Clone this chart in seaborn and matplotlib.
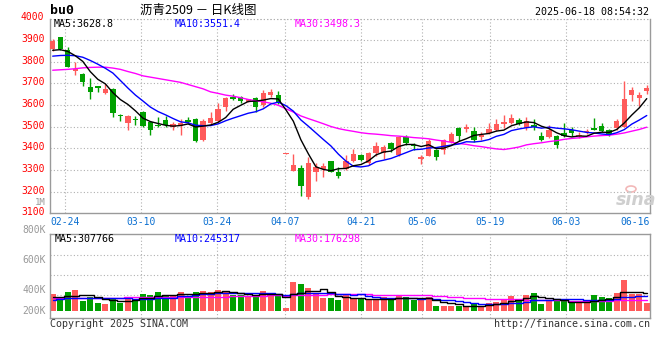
import numpy as np
import pandas as pd
import matplotlib
matplotlib.use("Agg")
import matplotlib.pyplot as plt
import matplotlib.transforms as mtransforms
from matplotlib.patches import Ellipse
import seaborn as sns

# ---------------- data ----------------
open_p = [3857, 3915, 3854, 3758, 3743, 3684, 3688, 3657, 3672, 3550,
          3518, 3536, 3568, 3523, 3510, 3531, 3500, 3503, 3531, 3534,
          3438, 3518, 3528, 3589, 3638, 3638, 3615, 3634, 3600, 3646,
          3646, 3375, 3297, 3308, 3177, 3292, 3303, 3341, 3292, 3303,
          3343, 3369, 3331, 3380, 3380, 3426, 3369, 3451, 3415, 3352,
          3365, 3392, 3392, 3431, 3495, 3489, 3480, 3451, 3469, 3485,
          3512, 3515, 3531, 3492, 3508, 3457, 3451, 3457, 3469, 3485,
          3455, 3475, 3495, 3503, 3485, 3492, 3500, 3646, 3634, 3665]
close_p = [3898, 3858, 3777, 3768, 3708, 3661, 3681, 3672, 3565, 3548,
           3549, 3533, 3503, 3485, 3505, 3508, 3512, 3518, 3521, 3435,
           3528, 3538, 3580, 3631, 3626, 3620, 3626, 3589, 3654, 3661,
           3611, 3378, 3323, 3227, 3334, 3312, 3318, 3292, 3274, 3341,
           3374, 3346, 3377, 3411, 3408, 3395, 3451, 3426, 3409, 3362,
           3435, 3362, 3438, 3466, 3457, 3500, 3438, 3461, 3488, 3512,
           3523, 3538, 3512, 3526, 3497, 3438, 3485, 3415, 3457, 3470,
           3459, 3479, 3485, 3480, 3466, 3526, 3628, 3669, 3646, 3680]
high_p = [3903, 3915, 3869, 3800, 3749, 3723, 3690, 3697, 3681, 3561,
          3554, 3549, 3572, 3528, 3543, 3549, 3523, 3534, 3543, 3538,
          3534, 3569, 3611, 3638, 3651, 3642, 3630, 3638, 3669, 3675,
          3664, 3380, 3375, 3323, 3358, 3334, 3331, 3343, 3312, 3369,
          3397, 3376, 3385, 3430, 3415, 3430, 3457, 3462, 3423, 3370,
          3442, 3396, 3442, 3477, 3497, 3511, 3500, 3477, 3515, 3534,
          3554, 3558, 3538, 3543, 3534, 3477, 3508, 3462, 3515, 3500,
          3477, 3488, 3538, 3518, 3488, 3534, 3712, 3685, 3661, 3692]
low_p = [3852, 3855, 3774, 3741, 3689, 3626, 3662, 3652, 3546, 3528,
         3485, 3508, 3500, 3461, 3500, 3500, 3485, 3461, 3518, 3431,
         3436, 3512, 3523, 3574, 3624, 3608, 3612, 3569, 3589, 3638,
         3605, 3374, 3296, 3180, 3166, 3250, 3269, 3290, 3263, 3300,
         3338, 3343, 3323, 3365, 3349, 3385, 3367, 3415, 3392, 3328,
         3363, 3346, 3374, 3423, 3435, 3477, 3431, 3438, 3466, 3482,
         3492, 3512, 3508, 3485, 3485, 3436, 3449, 3400, 3454, 3457,
         3446, 3466, 3483, 3477, 3457, 3485, 3497, 3618, 3595, 3649]
volume_k = [289, 238, 318, 352, 165, 233, 136, 114, 221, 136,
            193, 204, 284, 267, 318, 250, 250, 318, 250, 318,
            335, 318, 352, 318, 267, 267, 255, 267, 338, 276,
            258, 48, 493, 456, 386, 276, 221, 221, 182, 261,
            193, 193, 188, 182, 230, 207, 261, 227, 188, 193,
            238, 80, 80, 80, 80, 72, 115, 80, 128, 150,
            199, 250, 202, 267, 303, 117, 170, 160, 160, 160,
            126, 126, 267, 236, 219, 303, 525, 286, 286, 136]

# moving-average values before a full window exists
ma5_head = [3853, 3856, 3848, 3828]
ma10_head = [3826, 3829, 3830, 3828, 3821, 3806, 3789, 3770, 3748]
ma30_head = [3761, 3763, 3765, 3768, 3772, 3774, 3775, 3775, 3771, 3765,
             3755, 3746, 3735, 3729, 3723, 3717, 3711, 3705, 3695, 3685,
             3675, 3661, 3654, 3646, 3641, 3634, 3626, 3620, 3615]
vma5_head = [230, 240, 246, 250]
vma10_head = [190, 200, 215, 222, 224, 224, 223, 222, 221]
vma30_head = [216, 216, 217, 218, 218, 219, 220, 221, 222, 224,
              226, 228, 230, 231, 232, 233, 233, 234, 235, 236,
              236, 237, 238, 240, 242, 245, 247, 249, 252]

tick_labels = ["02-24", "03-10", "03-24", "04-07", "04-21", "05-06", "05-19", "06-03", "06-16"]
tick_index = [2, 12, 22, 31, 41, 49, 58, 68, 77]
price_ticks = [3100, 3200, 3300, 3400, 3500, 3600, 3700, 3800, 3900, 4000]
vol_labels = ["800K", "600K", "400K", "200K"]
head_price = ["MA5:3628.8", "MA10:3551.4", "MA30:3498.3"]
head_vol = ["MA5:307766", "MA10:245317", "MA30:176298"]

# ---------------- derived ----------------
o = np.array(open_p, float); c = np.array(close_p, float)
h = np.array(high_p, float); l = np.array(low_p, float)
v = np.array(volume_k, float) * 1000
idx = np.arange(len(c))


def moving(series, n, head):
    m = pd.Series(series).rolling(n).mean().to_numpy()
    m[:len(head)] = head
    return m


ma5 = moving(c, 5, ma5_head)
ma10 = moving(c, 10, ma10_head)
ma30 = moving(c, 30, ma30_head)
vma5 = moving(v, 5, np.array(vma5_head) * 1000)
vma10 = moving(v, 10, np.array(vma10_head) * 1000)
vma30 = moving(v, 30, np.array(vma30_head) * 1000)

RED = "#ff5a5a"
GREEN = "#00a000"
GRID = "#b0b0b0"
SPINE = "#9a9a9a"
DATE_BLUE = "#0a6fd1"
up = c >= o
colors = np.where(up, RED, GREEN)
direction = np.where(up, "up", "down")

# ---------------- figure ----------------
sns.set_theme(style="white")
plt.rcParams['font.family'] = ['DejaVu Sans Mono', 'Noto Sans CJK SC']
MONO = ['DejaVu Sans Mono']
CJK = ['Noto Sans CJK SC', 'DejaVu Sans']

W, H = 660, 360
fig = plt.figure(figsize=(6.6, 3.6), dpi=100)
fig.patch.set_facecolor("white")


def fx(px):
    return px / W


def fy(py):
    return 1 - py / H


ax = fig.add_axes([fx(50), fy(213.3), 600 / W, 194.8 / H])
axv = fig.add_axes([fx(50), fy(318.3), 600 / W, 84 / H])
x_left, x_right = -0.36, 79.43
grid_pos = [t - 0.36 + 0.0101 * (t - 2) for t in tick_index]
dotted = (0, (1, 2))

# ---- price panel ----
ax.set_facecolor("white")
for p in price_ticks[1:]:
    ax.axhline(p, color=GRID, lw=0.8, ls=dotted, zorder=0)
for gp in grid_pos[:-1]:
    ax.axvline(gp, color=GRID, lw=0.8, ls=dotted, zorder=0)

ax.vlines(idx, l, h, colors=colors, lw=1.0, zorder=2)
body_bottom = np.minimum(o, c)
body_h = np.maximum(np.abs(c - o), 4.5)
ax.bar(idx, body_h, bottom=body_bottom, width=0.72, color=colors, lw=0, zorder=3)

sns.lineplot(x=idx, y=ma30, ax=ax, color="#ff00ff", lw=1.0, zorder=4, legend=False)
sns.lineplot(x=idx, y=ma10, ax=ax, color="#0000ff", lw=1.0, zorder=5, legend=False)
sns.lineplot(x=idx, y=ma5, ax=ax, color="black", lw=1.0, zorder=6, legend=False)

ax.set_xlim(x_left, x_right)
ax.set_ylim(3100, 4000)
ax.set_yticks(price_ticks)
ax.set_yticklabels([str(p) for p in price_ticks])
ax.set_xticks(grid_pos)
ax.set_xticklabels(tick_labels)
ax.set_xlabel(""); ax.set_ylabel("")
ax.tick_params(axis="y", length=0, pad=4, labelsize=7, labelcolor="#ff0000")
ax.tick_params(axis="x", length=0, pad=3, labelsize=7, labelcolor=DATE_BLUE)
shift_up = mtransforms.ScaledTranslation(0, 2.0 / 100, fig.dpi_scale_trans)
for lab in ax.get_yticklabels():
    lab.set_family(MONO)
    lab.set_transform(lab.get_transform() + shift_up)
for lab in ax.get_xticklabels():
    lab.set_family(MONO)
ax.spines["top"].set_visible(False)
for s in ["left", "right", "bottom"]:
    ax.spines[s].set_color(SPINE)
    ax.spines[s].set_linewidth(1.0)
ax.axhline(4000, color=GRID, lw=0.8, ls=dotted, zorder=0, clip_on=False)

# ---- volume panel ----
axv.set_facecolor("white")
for gv in [262000, 602000, 947000]:
    axv.axhline(gv, color=GRID, lw=0.8, ls=dotted, zorder=0)
for gp in grid_pos[1:-1]:
    axv.axvline(gp, color=GRID, lw=0.8, ls=dotted, zorder=0)

vol_df = pd.DataFrame({"i": idx, "vol": v, "dir": direction})
sns.barplot(data=vol_df, x="i", y="vol", hue="dir", palette={"up": RED, "down": GREEN},
            native_scale=True, dodge=False, width=0.8, saturation=1, errorbar=None,
            legend=False, linewidth=0, ax=axv, zorder=2)
sns.lineplot(x=idx, y=vma30, ax=axv, color="#ff00ff", lw=1.0, drawstyle="steps-mid", zorder=4, legend=False)
sns.lineplot(x=idx, y=vma10, ax=axv, color="#0000ff", lw=1.0, drawstyle="steps-mid", zorder=5, legend=False)
sns.lineplot(x=idx, y=vma5, ax=axv, color="black", lw=1.0, drawstyle="steps-mid", zorder=6, legend=False)

axv.set_xlim(x_left, x_right)
axv.set_ylim(-129200, 1298800)
axv.set_xticks([]); axv.set_yticks([])
axv.set_xlabel(""); axv.set_ylabel("")
for s in ["left", "right", "bottom", "top"]:
    axv.spines[s].set_color(SPINE)
    axv.spines[s].set_linewidth(1.0)

# ---------------- texts ----------------
fig.text(fx(50), fy(11), "bu0", fontsize=9.5, fontweight="bold", family=MONO,
         ha="left", va="center", color="black")
fig.text(fx(140), fy(10.5), "沥青2509 － 日K线图", fontsize=9, family=CJK,
         ha="left", va="center", color="black")
fig.text(fx(649), fy(12), "2025-06-18 08:54:32", fontsize=7.2, family=MONO,
         ha="right", va="center", color="black")

head_cols = ["black", "#0000ff", "#ff00ff"]
head_x = [54, 175, 295]
for txt, col, xp in zip(head_price, head_cols, head_x):
    fig.text(fx(xp), fy(24), txt, fontsize=7.2, family=MONO, color=col, ha="left", va="center")
for txt, col, xp in zip(head_vol, head_cols, [55, 175, 295]):
    fig.text(fx(xp), fy(239), txt, fontsize=7.2, family=MONO, color=col, ha="left", va="center")

for txt, yp in zip(vol_labels, [230, 260, 290, 310.5]):
    fig.text(fx(46), fy(yp), txt, fontsize=7, family=MONO, color="#999999", ha="right", va="center")
fig.text(fx(46), fy(202.5), "1M", fontsize=6.5, family=MONO, color="#999999", ha="right", va="center")

fig.text(fx(50), fy(324), "Copyright 2025 SINA.COM", fontsize=7.2, family=MONO,
         color="#333333", ha="left", va="center")
fig.text(fx(650), fy(324), "http://finance.sina.com.cn", fontsize=7.2, family=MONO,
         color="#333333", ha="right", va="center")

# faint "sina" watermark with its small logo
fig.patches.append(Ellipse((fx(631), fy(189)), 10 / W, 6 / H, transform=fig.transFigure,
                           facecolor="none", edgecolor="#f2b8b8", lw=1.2))
fig.text(fx(636), fy(200), "sina", fontsize=12.5, family=['DejaVu Sans'], style="italic",
         fontweight="bold", color="#cfcfcf", ha="center", va="center")

fig.savefig("out.png", dpi=100, facecolor="white")
